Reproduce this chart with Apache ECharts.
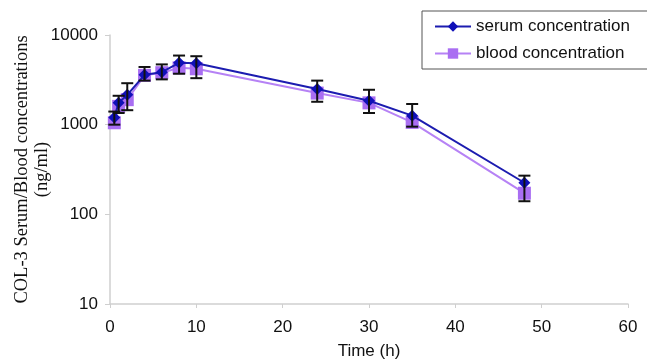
<!DOCTYPE html>
<html>
<head>
<meta charset="utf-8">
<script src="https://cdn.jsdelivr.net/npm/echarts@6/dist/echarts.min.js"></script>
<style>
  html, body { margin: 0; padding: 0; background: #fff; }
  #main { width: 647px; height: 362px; }
</style>
</head>
<body>
<div id="main"></div>
<script>
// time points (h)
var times = [0.5, 1, 2, 4, 6, 8, 10, 24, 30, 35, 48];
// serum concentration (ng/ml)
var serum = [1200, 1750, 2150, 3600, 3850, 4900, 4850, 2500, 1850, 1260, 225];
// blood concentration (ng/ml)
var blood = [1050, 1600, 1900, 3550, 3800, 4300, 4200, 2250, 1750, 1060, 172];
// error bar ends
var errLow = [1000, 1350, 1450, 3100, 3200, 3700, 3300, 1800, 1350, 950, 140];
var errHigh = [1400, 2100, 2900, 4400, 4700, 5900, 5800, 3100, 2450, 1700, 270];

var xTicks = [0, 10, 20, 30, 40, 50, 60];
var yTicks = [10, 100, 1000, 10000];

var chart = echarts.init(document.getElementById('main'));

function pairs(vals) {
  return times.map(function (t, i) { return [t, vals[i]]; });
}

var errData = times.map(function (t, i) { return [t, errLow[i], errHigh[i]]; });

var option = {
  animation: false,
  grid: { left: 110, right: 19, top: 35, bottom: 58, outerBoundsMode: 'none', containLabel: false },
  legend: {
    orient: 'vertical',
    left: 422,
    top: 11,
    padding: [7, 30, 7, 12],
    itemGap: 10,
    itemWidth: 36,
    itemHeight: 13,
    borderColor: '#555',
    borderWidth: 1,
    borderRadius: 0,
    textStyle: { fontFamily: 'Liberation Sans, Arial', fontSize: 17, color: '#111' },
    data: ['serum concentration', 'blood concentration']
  },
  xAxis: {
    type: 'value',
    min: xTicks[0],
    max: xTicks[xTicks.length - 1],
    interval: 10,
    name: 'Time (h)',
    nameLocation: 'middle',
    nameGap: 39,
    nameMoveOverlap: false,
    nameTextStyle: { fontFamily: 'Liberation Sans, Arial', fontSize: 17, color: '#111' },
    axisLine: { lineStyle: { color: '#cfcfcf', width: 1.5 } },
    axisTick: { show: true, length: 4, lineStyle: { color: '#cfcfcf' } },
    axisLabel: { fontFamily: 'Liberation Sans, Arial', fontSize: 17, color: '#111', margin: 15 },
    splitLine: { show: false }
  },
  yAxis: {
    type: 'log',
    logBase: 10,
    min: yTicks[0],
    max: yTicks[yTicks.length - 1],
    name: 'COL-3 Serum/Blood concentrations\n(ng/ml)',
    nameLocation: 'middle',
    nameRotate: 90,
    nameGap: 58,
    nameMoveOverlap: false,
    nameTextStyle: { fontFamily: 'Liberation Serif, Times New Roman', fontSize: 18.5, color: '#111', lineHeight: 20 },
    axisLine: { show: true, lineStyle: { color: '#cfcfcf', width: 1.5 } },
    axisTick: { show: true, length: 5, lineStyle: { color: '#cfcfcf' } },
    axisLabel: {
      fontFamily: 'Liberation Sans, Arial', fontSize: 17, color: '#111', margin: 12,
      formatter: function (v) { return String(Math.round(v)); }
    },
    splitLine: { show: false },
    minorTick: { show: false }
  },
  series: [
    {
      name: 'errors',
      type: 'custom',
      z: 5,
      data: errData,
      renderItem: function (params, api) {
        var x = api.value(0);
        var lo = api.coord([x, api.value(1)]);
        var hi = api.coord([x, api.value(2)]);
        var cap = 6;
        var st = { stroke: '#111', lineWidth: 2 };
        return {
          type: 'group',
          children: [
            { type: 'line', shape: { x1: lo[0], y1: lo[1], x2: hi[0], y2: hi[1] }, style: st },
            { type: 'line', shape: { x1: lo[0] - cap, y1: lo[1], x2: lo[0] + cap, y2: lo[1] }, style: st },
            { type: 'line', shape: { x1: hi[0] - cap, y1: hi[1], x2: hi[0] + cap, y2: hi[1] }, style: st }
          ]
        };
      }
    },
    {
      name: 'blood concentration',
      type: 'line',
      z: 3,
      data: pairs(blood),
      symbol: 'rect',
      symbolSize: 13,
      lineStyle: { color: '#b682f5', width: 2 },
      itemStyle: { color: '#a96ef2' }
    },
    {
      name: 'serum concentration',
      type: 'line',
      z: 4,
      data: pairs(serum),
      symbol: 'diamond',
      symbolSize: 12,
      lineStyle: { color: '#1c1cb0', width: 2 },
      itemStyle: { color: '#1010b8' }
    }
  ]
};

chart.setOption(option);
</script>
</body>
</html>
